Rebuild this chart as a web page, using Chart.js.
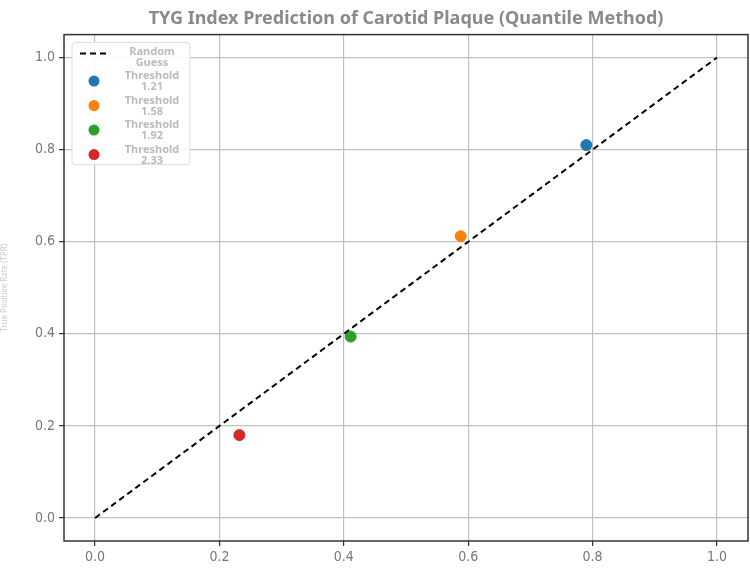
<!DOCTYPE html>
<html>
<head>
<meta charset="utf-8">
<script src="https://cdn.jsdelivr.net/npm/chart.js@4.4.1/dist/chart.umd.min.js"></script>
<style>
  body { margin: 0; background: #fff; }
  #wrap { width: 750px; height: 570px; position: relative; }
</style>
</head>
<body>
<div id="wrap"><canvas id="chart" width="750" height="570"></canvas></div>
<script>
// values
const thresholds = ['1.21', '1.58', '1.92', '2.33']
const fprValues = [0.790, 0.588, 0.411, 0.232]
const tprValues = [0.810, 0.612, 0.394, 0.180]
const pointColors = ['#1f77b4', '#ff7f0e', '#2ca02c', '#d62728']
const guessX = [0, 1]
const guessY = [0, 1]
const tickValues = [0, 0.2, 0.4, 0.6, 0.8, 1.0]

const tickFont = { family: "'Liberation Sans Narrow', 'DejaVu Sans Condensed', sans-serif", size: 14 }

const datasets = [{
    type: 'line',
    label: 'Random Guess',
    data: guessX.map((x, i) => ({ x: x, y: guessY[i] })),
    borderColor: '#000',
    borderWidth: 2,
    borderDash: [6, 4],
    pointRadius: 0,
    fill: false
}]
thresholds.forEach((t, i) => {
    datasets.push({
        type: 'scatter',
        label: 'Threshold ' + t,
        data: [{ x: fprValues[i], y: tprValues[i] }],
        backgroundColor: pointColors[i],
        borderColor: pointColors[i],
        pointRadius: 5.5
    })
})

// frame around the plot area
const framePlugin = {
    id: 'frame',
    afterDraw(chart) {
        const { ctx, chartArea: a } = chart
        ctx.save()
        ctx.strokeStyle = '#333'
        ctx.lineWidth = 1.5
        ctx.strokeRect(a.left, a.top, a.right - a.left, a.bottom - a.top)
        ctx.restore()
    }
}

// legend box with wrapped labels, like the reference
const boxLegend = {
    id: 'boxLegend',
    afterDraw(chart) {
        const { ctx, chartArea: a } = chart
        const x0 = a.left + 8, y0 = a.top + 8
        const w = 118, h = 122
        ctx.save()
        ctx.fillStyle = 'rgba(255,255,255,0.9)'
        ctx.strokeStyle = '#ddd'
        ctx.lineWidth = 1
        ctx.beginPath()
        ctx.roundRect(x0, y0, w, h, 3)
        ctx.fill()
        ctx.stroke()

        ctx.font = "bold 11px 'Noto Sans', sans-serif"
        ctx.fillStyle = '#bbb'
        ctx.textAlign = 'center'
        ctx.textBaseline = 'middle'
        const textX = x0 + 80

        chart.data.datasets.forEach((ds, i) => {
            const cy = y0 + 13 + i * 24.5
            const parts = ds.label.split(' ')
            if (ds.type === 'line') {
                ctx.strokeStyle = '#000'
                ctx.lineWidth = 2
                ctx.setLineDash([6, 4])
                ctx.beginPath()
                ctx.moveTo(x0 + 8, cy - 2)
                ctx.lineTo(x0 + 36, cy - 2)
                ctx.stroke()
                ctx.setLineDash([])
            } else {
                ctx.fillStyle = ds.backgroundColor
                ctx.beginPath()
                ctx.arc(x0 + 22, cy + 1, 5.5, 0, Math.PI * 2)
                ctx.fill()
            }
            ctx.fillStyle = '#bbb'
            ctx.fillText(parts[0], textX, cy - 4)
            ctx.fillText(parts[1], textX, cy + 7)
        })
        ctx.restore()
    }
}

new Chart(document.getElementById('chart'), {
    data: { datasets: datasets },
    options: {
        responsive: false,
        animation: false,
        layout: { autoPadding: false, padding: { right: 2, left: 0, bottom: 0 } },
        plugins: {
            legend: { display: false },
            tooltip: { enabled: false },
            title: {
                display: true,
                fullSize: false,
                text: 'TYG Index Prediction of Carotid Plaque (Quantile Method)',
                color: '#8a8a8a',
                font: { family: "'Noto Sans', sans-serif", size: 18, weight: 'bold' },
                padding: { top: 8, bottom: 5 }
            }
        },
        scales: {
            x: {
                type: 'linear',
                min: -0.05,
                max: 1.05,
                afterBuildTicks: scale => { scale.ticks = tickValues.map(v => ({ value: v })) },
                afterFit: scale => {
                    scale.height = 29
                    scale.paddingLeft = 0
                    scale.paddingRight = 0
                },
                grid: { color: '#c0c0c0', lineWidth: 1.2, tickColor: '#333', tickLength: 5 },
                border: { display: false },
                ticks: {
                    color: '#777',
                    font: tickFont,
                    padding: 3,
                    callback: v => v.toFixed(1)
                }
            },
            y: {
                type: 'linear',
                min: -0.05,
                max: 1.05,
                afterBuildTicks: scale => { scale.ticks = tickValues.map(v => ({ value: v })) },
                afterFit: scale => {
                    scale.width = 64
                    scale.paddingTop = 0
                    scale.paddingBottom = 0
                },
                grid: { color: '#c0c0c0', lineWidth: 1.2, tickColor: '#333', tickLength: 5 },
                border: { display: false },
                title: {
                    display: true,
                    text: 'True Positive Rate (TPR)',
                    color: '#ccc',
                    font: { family: "'Noto Sans', sans-serif", size: 8 },
                    padding: { top: 0, bottom: 0 }
                },
                ticks: {
                    color: '#777',
                    font: tickFont,
                    padding: 4,
                    callback: v => v.toFixed(1)
                }
            }
        }
    },
    plugins: [framePlugin, boxLegend]
})
</script>
</body>
</html>
